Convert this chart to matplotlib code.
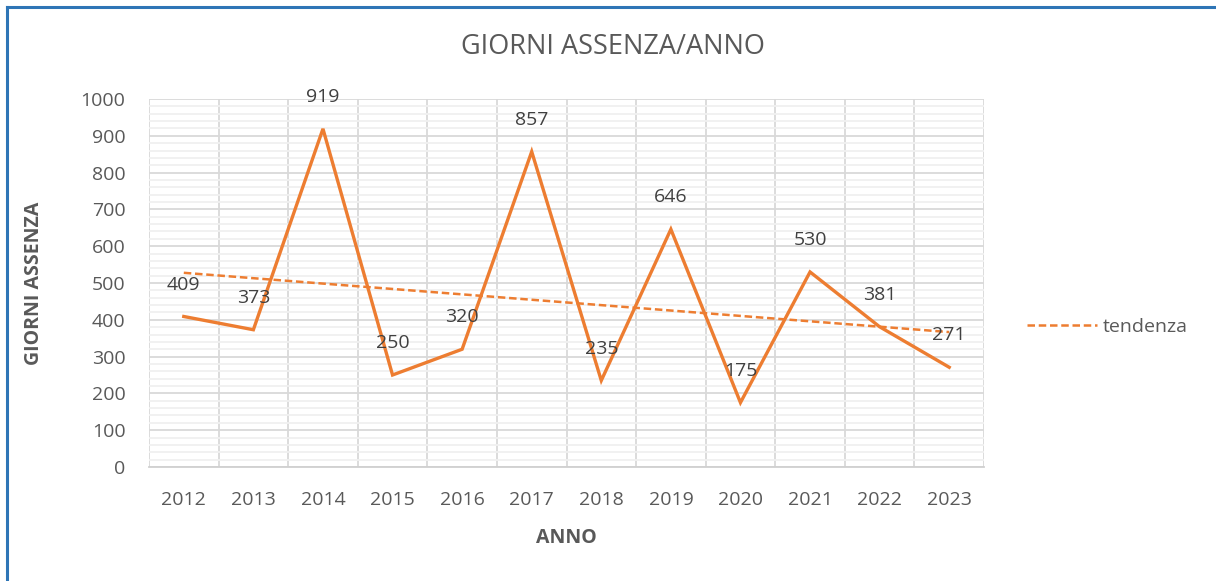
import matplotlib.pyplot as plt
import numpy as np
from matplotlib.lines import Line2D
from matplotlib.ticker import MultipleLocator

plt.rcParams["font.family"] = ["Open Sans", "DejaVu Sans"]

years = ["2012", "2013", "2014", "2015", "2016", "2017",
         "2018", "2019", "2020", "2021", "2022", "2023"]
days_absent = [409, 373, 919, 250, 320, 857, 235, 646, 175, 530, 381, 271]

ORANGE = "#ED7D31"
TEXT = "#595959"
LABEL = "#404040"

fig = plt.figure(figsize=(12.16, 5.81), dpi=100)
ax = fig.add_axes([149 / 1216, 1 - 467 / 581, 835 / 1216, 368 / 581])

x = np.arange(len(years))
ax.plot(x, days_absent, color=ORANGE, lw=2.4, solid_joinstyle="miter", zorder=3)

# linear trend over the yearly values
slope, intercept = np.polyfit(x, days_absent, 1)
trend_x = np.array([x[0], x[-1]])
ax.plot(trend_x, slope * trend_x + intercept, color=ORANGE, lw=1.8,
        linestyle=(0, (3, 1.5)), zorder=4, label="tendenza")

for xi, v in zip(x, days_absent):
    ax.annotate(str(v), (xi, v), xytext=(0, 23), textcoords="offset points",
                ha="center", va="center", fontsize=14, color=LABEL, zorder=5)

ax.set_xlim(-0.5, len(years) - 0.5)
ax.set_ylim(0, 1000)
ax.set_xticks(x)
ax.set_xticklabels(years)
ax.yaxis.set_major_locator(MultipleLocator(100))
ax.yaxis.set_minor_locator(MultipleLocator(20))
ax.set_xticks(np.arange(-0.5, len(years)), minor=True)

ax.grid(which="major", axis="y", color="#D9D9D9", lw=1.3)
ax.grid(which="minor", axis="y", color="#F0F0F0", lw=1.3)
ax.grid(which="minor", axis="x", color="#D9D9D9", lw=1.3)
ax.set_axisbelow(True)
for side in ["top", "left", "right"]:
    ax.spines[side].set_visible(False)
ax.spines["bottom"].set_color("#D0D0D0")
ax.spines["bottom"].set_linewidth(1.3)

ax.tick_params(which="both", length=0)
ax.tick_params(axis="y", pad=17, labelsize=14, labelcolor=TEXT)
ax.tick_params(axis="x", pad=17, labelsize=14, labelcolor=TEXT)

ax.set_xlabel("ANNO", fontsize=14, fontweight="bold", color=TEXT, labelpad=14)
ax.set_ylabel("GIORNI ASSENZA", fontsize=14, fontweight="bold", color=TEXT,
              labelpad=26)
fig.text(613 / 1216, 1 - 47 / 581, "GIORNI ASSENZA/ANNO", ha="center",
         va="center", fontsize=19.5, color=TEXT)

ax.legend(loc="center left", bbox_to_anchor=(1.03, 0.38), frameon=False,
          fontsize=14, handlelength=3.6, handletextpad=0.3,
          labelcolor=TEXT)

# chart frame
fig.add_artist(Line2D([7 / 1216, 7 / 1216], [0, 1 - 7 / 581],
                      color="#2E75B6", lw=2.2, transform=fig.transFigure))
fig.add_artist(Line2D([7 / 1216, 1], [1 - 7 / 581, 1 - 7 / 581],
                      color="#2E75B6", lw=2.2, transform=fig.transFigure))

fig.savefig("out.png", dpi=100)
